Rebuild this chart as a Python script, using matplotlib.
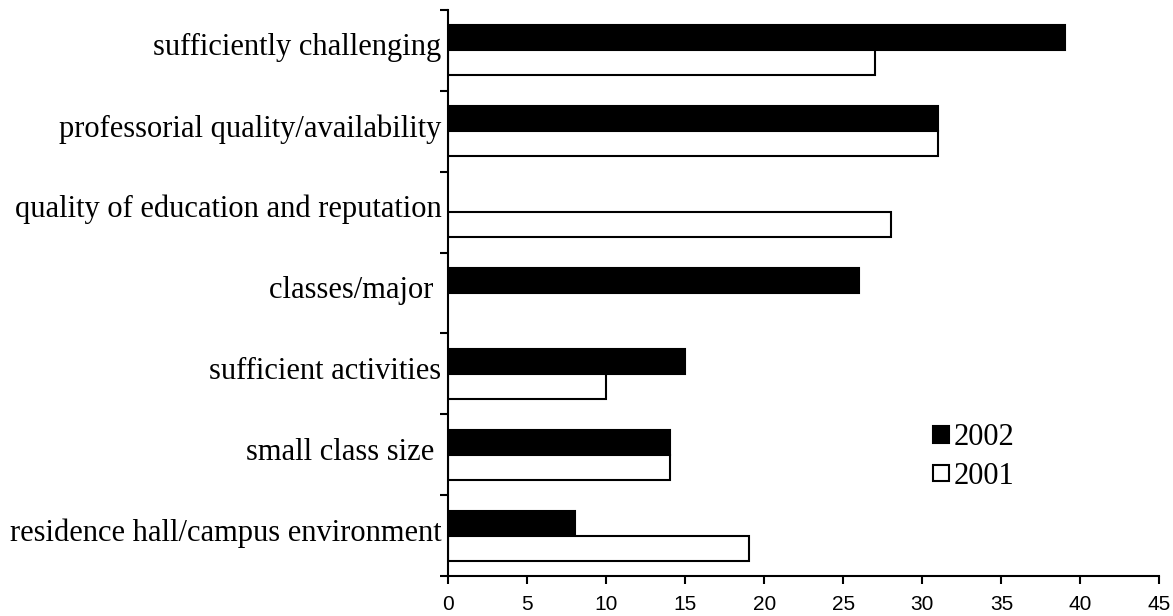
import numpy as np
import matplotlib
matplotlib.use("Agg")
import matplotlib.pyplot as plt
import matplotlib.transforms as mtransforms
from matplotlib.patches import Patch

categories = [
    "sufficiently challenging",
    "professorial quality/availability",
    "quality of education and reputation",
    "classes/major ",
    "sufficient activities",
    "small class size ",
    "residence hall/campus environment",
]
vals_2002 = [39, 31, 0, 26, 15, 14, 8]
vals_2001 = [27, 31, 28, 0, 10, 14, 19]
xticks = [0, 5, 10, 15, 20, 25, 30, 35, 40, 45]

fig = plt.figure(figsize=(11.73, 6.16), dpi=100)
ax = fig.add_axes([0.3822, 0.0649, 0.6062, 0.9189])

n = len(categories)
y = np.arange(n)[::-1]  # first category on top
h = 0.31

for yy, v in zip(y, vals_2002):
    if v > 0:
        ax.barh(yy + h / 2, v, height=h, color="black", edgecolor="black", linewidth=1.5)
for yy, v in zip(y, vals_2001):
    if v > 0:
        ax.barh(yy - h / 2, v, height=h, color="white", edgecolor="black", linewidth=1.5)

ax.set_xlim(0, 45)
ax.set_ylim(-0.5, n - 0.5)
ax.set_xticks(xticks)
ax.set_xticklabels([str(t) for t in xticks], family="Liberation Sans", fontsize=15)

ax.set_yticks(y)
ax.set_yticklabels(categories, family="Liberation Serif", fontsize=22)
ax.set_yticks(np.arange(n + 1) - 0.5, minor=True)
ax.tick_params(axis="y", which="major", length=0, pad=5)
ax.tick_params(axis="y", which="minor", length=6, width=1.5, direction="out")
ax.tick_params(axis="x", length=6, width=1.5, direction="out", pad=8)

# lift the category labels a little, like the original
shift = mtransforms.ScaledTranslation(0, 6 / 100, fig.dpi_scale_trans)
for lab in ax.get_yticklabels():
    lab.set_transform(lab.get_transform() + shift)

for s in ["top", "right"]:
    ax.spines[s].set_visible(False)
for s in ["left", "bottom"]:
    ax.spines[s].set_linewidth(1.5)

handles = [Patch(facecolor="black", edgecolor="black", linewidth=1.5, label="2002"),
           Patch(facecolor="white", edgecolor="black", linewidth=1.5, label="2001")]
ax.legend(handles=handles, loc="center left", bbox_to_anchor=(0.681, 0.21),
          frameon=False, prop={"family": "Liberation Serif", "size": 22},
          handlelength=0.55, handleheight=0.45, handletextpad=0.15, labelspacing=0.32,
          borderpad=0, borderaxespad=0)

fig.savefig("out.png", dpi=100)
